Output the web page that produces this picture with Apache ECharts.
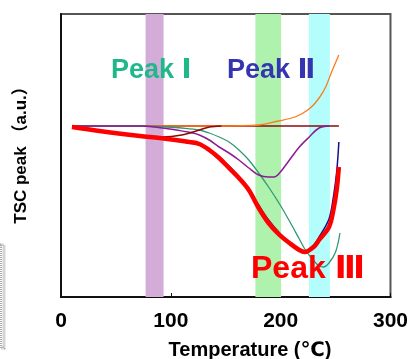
<!DOCTYPE html>
<html><head><meta charset="utf-8">
<script src="https://cdn.jsdelivr.net/npm/echarts@6/dist/echarts.min.js"></script>
<style>html,body{margin:0;padding:0;background:#fff}#c{width:411px;height:359px}</style>
</head><body><div id="c"></div>
<script>
const xTicks = [0, 100, 200, 300];
const bandRanges = [[77, 93.4], [177, 200.4], [225.7, 244.8]];
const bandColors = ['#d4acd8', '#aef2ae', '#b4fdfd'];
const baseline = [[10, 171], [253, 171]];
const orangeCurve = [[10,171],[146,171],[180,172],[198,176],[210,179],[219,183],[228,190],[235,199],[241,210],[246,224],[253,242]];
const tealCurve = [[10,171],[74,171],[96,170],[110,169],[126,167],[135,164],[144,160],[153,155],[162,147],[171,137],[180,124],[189,110],[199,93],[208,76],[217,58],[222,48],[228,39],[235,31],[239,30],[244,34],[250,45],[254,64]];
const purpleCurve = [[10,171],[74,171],[85,170],[99,168],[120,164],[126,162],[135,157],[144,150],[153,144],[162,137],[171,129],[180,122],[189,120],[194,120],[199,124],[208,137],[217,150],[226,160],[235,169],[244,171]];
const brownCurve = [[10,171],[35,166],[72,161],[92,160],[110,162],[126,167],[135,170],[146,171]];
const navyCurve = [[10,170],[35,166],[72,161],[90,159],[117,154],[126,152],[135,146],[144,139],[153,131],[162,120],[171,108],[180,92],[189,77],[199,64],[208,55],[217,48],[222,46],[230,52],[235,60],[244,78],[248,100],[251,125],[253,155]];
const redCurve = [[10,170],[35,166],[72,161],[90,159],[117,155],[126,153],[135,147],[144,139],[153,129],[162,119],[171,107],[180,89],[189,74],[199,62],[208,54],[217,47],[222,45],[230,50],[235,57],[244,70],[248,87],[251,107],[253,130]];
const peakLabels = ['Peak Ⅰ', 'Peak Ⅱ', 'Peak Ⅲ'];
const xTitle = 'Temperature (℃)';
const yTitle = 'TSC peak （a.u.）';

const FF = "'Liberation Sans', Arial, 'DejaVu Sans', 'Noto Sans CJK JP', sans-serif";
const chart = echarts.init(document.getElementById('c'), null, {renderer: 'canvas'});
function line(data, color, width, z) {
  return {type: 'line', data: data, showSymbol: false, smooth: 0.35, z: z,
    lineStyle: {color: color, width: width}, silent: true, animation: false};
}
chart.setOption({
  animation: false,
  grid: {left: 61, right: 19, top: 14, bottom: 62, show: true, borderColor: '#555', borderWidth: 2, backgroundColor: 'transparent'},
  xAxis: {type: 'value', min: xTicks[0], max: xTicks[xTicks.length-1], interval: 100,
    axisLine: {lineStyle: {color: '#111', width: 2}},
    axisTick: {inside: true, length: 4, lineStyle: {color: '#111'}},
    splitLine: {show: false},
    axisLabel: {fontSize: 21, fontWeight: 'bold', color: '#000', margin: 14, fontFamily: FF}},
  yAxis: {type: 'value', min: 0, max: 283, axisLine: {show: true, lineStyle: {color: '#111', width: 2}},
    axisTick: {show: false}, axisLabel: {show: false}, splitLine: {show: false}},
  series: [
    {type: 'line', data: [], z: 1, silent: true,
      markArea: {silent: true, data: bandRanges.map((r, i) => [{xAxis: r[0], itemStyle: {color: bandColors[i]}}, {xAxis: r[1]}])}},
    line(baseline, '#8b0a0a', 1.5, 2),
    line(orangeCurve, '#ff7a1a', 1.3, 3),
    line(tealCurve, '#2f9a72', 1.3, 4),
    line(purpleCurve, '#8e1a96', 1.5, 5),
    line(brownCurve, '#8b0a0a', 1.5, 6),
    line(navyCurve, '#10108a', 1.5, 7),
    line(redCurve, '#ff0000', 4.5, 8)
  ],
  graphic: [
    {type: 'text', left: 111, top: 57, z: 20, style: {text: peakLabels[0], font: "bold 27px " + FF, fill: '#1fb88a', textShadowColor: 'rgba(0,0,0,0.35)', textShadowOffsetX: 1, textShadowOffsetY: 1}},
    {type: 'text', left: 227, top: 57, z: 20, style: {text: peakLabels[1], font: "bold 27px " + FF, fill: '#3535b2', textShadowColor: 'rgba(0,0,0,0.35)', textShadowOffsetX: 1, textShadowOffsetY: 1}},
    {type: 'text', left: 251, top: 253, z: 20, style: {text: peakLabels[2], font: "bold 32px " + FF, fill: '#ff0000', textShadowColor: 'rgba(60,0,0,0.5)', textShadowOffsetX: 1, textShadowOffsetY: 1}},
    {type: 'text', x: 250, y: 350, z: 20, style: {text: xTitle, font: "bold 20px " + FF, fill: '#000', align: 'center', verticalAlign: 'middle'}},
    {type: 'text', x: 21, y: 151, rotation: Math.PI / 2, z: 20, style: {text: yTitle, font: "bold 17px " + FF, fill: '#000', align: 'center', verticalAlign: 'middle'}},
    {type: 'rect', shape: {x: 0.5, y: 245, width: 3.5, height: 103}, z: 20, style: {fill: 'none', stroke: '#aaa', lineWidth: 3, lineDash: [1, 1]}}
  ]
});
</script></body></html>
